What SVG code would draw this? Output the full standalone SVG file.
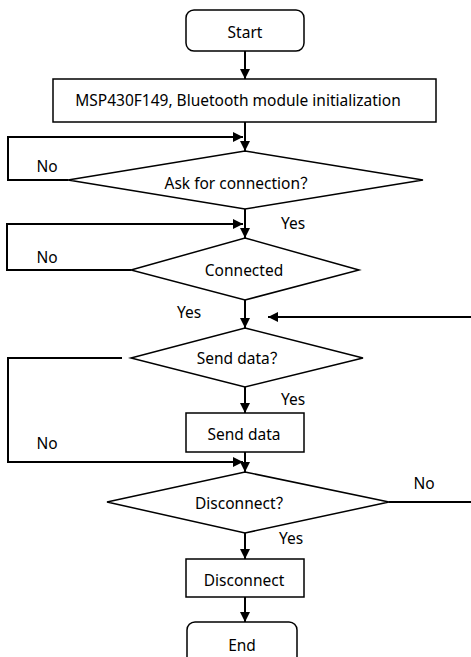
<svg xmlns="http://www.w3.org/2000/svg" width="471" height="657" viewBox="0 0 471 657">
<defs>
<marker id="ah" viewBox="0 0 10 10" refX="10" refY="5" markerWidth="11" markerHeight="10" markerUnits="userSpaceOnUse" orient="auto">
<path d="M0,0 L10,5 L0,10 Z" fill="#000"/>
</marker>
<style>
.sh{fill:#fff;stroke:#000;stroke-width:1.5}
.t{font-family:"Noto Sans","Noto Sans CJK SC",sans-serif;font-size:15.5px;fill:#000;text-anchor:middle;dominant-baseline:central}
.c{fill:none;stroke:#000;stroke-width:2}
.a{marker-end:url(#ah)}
</style>
</defs>
<rect width="471" height="657" fill="#fff"/>
<g id="connectors">
<path class="c a" d="M245,51 V79"/>
<path class="c a" d="M245,122 V151"/>
<path class="c a" d="M68,180 H8 V137 H243"/>
<path class="c a" d="M245,209 V238"/>
<path class="c a" d="M131,270 H7 V224 H243"/>
<path class="c a" d="M245,300 V328"/>
<path class="c a" d="M471,317 H268"/>
<path class="c a" d="M245,387 V413"/>
<path class="c a" d="M122,358 H8 V462 H243"/>
<path class="c a" d="M245,452 V472"/>
<path class="c" d="M389,502 H471"/>
<path class="c a" d="M245,533 V559"/>
<path class="c a" d="M245,597 V622"/>
<text class="t" x="47" y="166">No</text>
<text class="t" x="293" y="223">Yes</text>
<text class="t" x="47" y="257">No</text>
<text class="t" x="189" y="312">Yes</text>
<text class="t" x="293" y="399">Yes</text>
<text class="t" x="47" y="443">No</text>
<text class="t" x="424" y="483">No</text>
<text class="t" x="291" y="538">Yes</text>
</g>
<g id="start"><rect class="sh" x="186" y="10" width="118" height="41" rx="8"/><text class="t" x="245" y="32">Start</text></g>
<g id="init"><rect class="sh" x="53" y="79" width="383" height="43"/><text class="t" x="238" y="100">MSP430F149, Bluetooth module initialization</text></g>
<g id="ask"><polygon class="sh" points="245,151 423,180 245,209 68,180"/><text class="t" x="240" y="183">Ask for connection？</text></g>
<g id="connected"><polygon class="sh" points="245,238 359,270 245,300 131,270"/><text class="t" x="244" y="270">Connected</text></g>
<g id="senddata_q"><polygon class="sh" points="245,328 363,358 245,387 131,358"/><text class="t" x="241" y="358">Send data？</text></g>
<g id="senddata"><rect class="sh" x="186" y="413" width="118" height="39"/><text class="t" x="244" y="434">Send data</text></g>
<g id="disconnect_q"><polygon class="sh" points="245,472 389,502 245,533 107,502"/><text class="t" x="243" y="503">Disconnect？</text></g>
<g id="disconnect"><rect class="sh" x="186" y="559" width="118" height="38"/><text class="t" x="244" y="580">Disconnect</text></g>
<g id="end"><rect class="sh" x="187" y="622" width="110" height="45" rx="8"/><text class="t" x="242" y="645">End</text></g>
</svg>
